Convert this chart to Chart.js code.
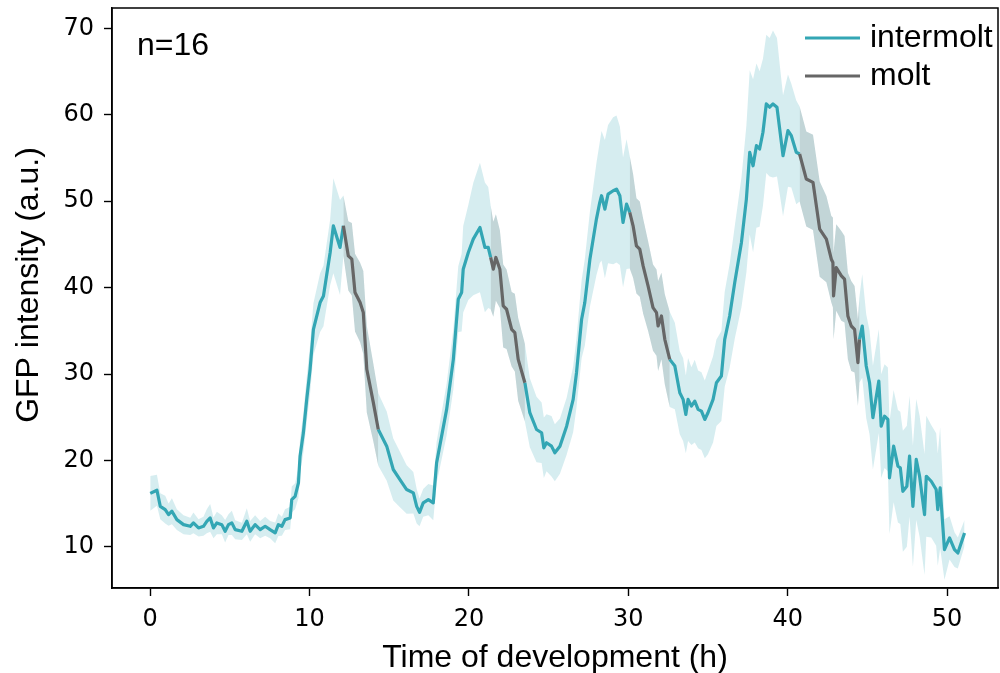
<!DOCTYPE html>
<html>
<head>
<meta charset="utf-8">
<script src="https://cdn.jsdelivr.net/npm/chart.js@4.4.1/dist/chart.umd.min.js"></script>
<style>
  html, body { margin: 0; padding: 0; background: #fff; }
  #wrap { width: 1000px; height: 673px; }
</style>
</head>
<body>
<div id="wrap"><canvas id="gfpChart" width="1000" height="673"></canvas></div>
<script>
// -----------------------------
// Data
// -----------------------------
const hours = [
  0, 0.42, 0.63, 0.94, 1.15, 1.36, 1.67, 2.09, 2.51, 2.71,
  3.03, 3.34, 3.55, 3.76, 3.97, 4.18, 4.49, 4.7, 4.91, 5.12,
  5.33, 5.75, 6.06, 6.27, 6.58, 6.9, 7.21, 7.52, 7.84, 8.04,
  8.26, 8.46, 8.78, 8.88, 9.09, 9.3, 9.4, 9.61, 9.82, 10.03,
  10.24, 10.66, 10.87, 11.29, 11.49, 11.91, 12.12, 12.43, 12.65, 12.85,
  13.17, 13.37, 13.59, 14.0, 14.31, 14.84, 15.25, 15.67, 16.09, 16.51,
  16.72, 16.9, 17.13, 17.45, 17.76, 17.97, 18.6, 19.02, 19.33, 19.54,
  19.64, 19.96, 20.27, 20.69, 21.0, 21.21, 21.36, 21.53, 21.69, 21.94,
  22.15, 22.36, 22.68, 22.88, 23.09, 23.51, 23.82, 24.24, 24.56, 24.7,
  24.87, 25.18, 25.39, 25.71, 26.13, 26.54, 26.75, 27.07, 27.27, 27.59,
  28.0, 28.21, 28.32, 28.53, 28.73, 29.05, 29.26, 29.47, 29.67, 29.89,
  30.09, 30.3, 30.51, 30.72, 30.93, 31.24, 31.55, 31.77, 31.87, 32.08,
  32.29, 32.6, 32.92, 33.23, 33.44, 33.61, 33.75, 33.96, 34.17, 34.38,
  34.59, 34.8, 35.0, 35.32, 35.53, 35.84, 36.05, 36.36, 36.68, 37.1,
  37.41, 37.62, 37.83, 38.04, 38.24, 38.45, 38.66, 38.87, 39.08, 39.33,
  39.5, 39.71, 40.02, 40.23, 40.54, 40.75, 41.17, 41.59, 42.01, 42.43,
  42.74, 42.84, 42.88, 43.05, 43.37, 43.57, 43.78, 43.99, 44.2, 44.41,
  44.51, 44.68, 44.93, 45.14, 45.35, 45.72, 45.87, 46.08, 46.29, 46.39,
  46.65, 46.92, 47.07, 47.23, 47.48, 47.65, 47.86, 48.07, 48.28, 48.59,
  48.7, 49.01, 49.32, 49.42, 49.57, 49.84, 50.16, 50.47, 50.68, 51.1
];

const meanGFP = [
  16.2, 16.56, 14.7, 14.32, 13.74, 14.13, 13.16, 12.58, 12.39, 12.78,
  12.2, 12.39, 12.97, 13.36, 12.2, 12.78, 12.58, 11.81, 12.58, 12.78,
  12.0, 11.81, 12.97, 11.81, 12.58, 12.0, 12.39, 12.0, 11.62, 12.58,
  12.39, 13.16, 13.36, 15.48, 15.86, 17.42, 20.5, 23.2, 27.07, 30.55,
  35.18, 38.27, 39.04, 44.07, 47.15, 44.65, 47.15, 43.67, 43.29, 39.43,
  38.27, 37.11, 30.55, 26.69, 23.59, 21.66, 18.96, 17.8, 16.64, 16.26,
  14.7, 14.0, 15.1, 15.48, 15.1, 19.73, 25.91, 31.7, 38.66, 39.43,
  42.13, 44.07, 45.61, 46.96, 44.65, 44.65, 43.49, 42.13, 43.49, 42.13,
  37.88, 37.5, 35.18, 34.8, 31.7, 29.0, 25.53, 23.59, 23.21, 21.47,
  22.05, 21.66, 20.89, 21.66, 23.97, 27.07, 30.16, 36.34, 38.27, 43.29,
  47.93, 49.86, 50.63, 49.08, 50.82, 51.21, 51.4, 50.63, 47.54, 49.66,
  48.7, 47.15, 44.83, 44.45, 42.51, 40.2, 37.69, 37.11, 35.56, 36.72,
  34.02, 31.7, 30.93, 27.84, 27.07, 25.33, 27.07, 26.29, 26.87, 25.91,
  25.71, 24.75, 25.53, 27.07, 29.0, 29.77, 34.02, 36.72, 40.59, 45.23,
  50.24, 55.66, 54.1, 56.42, 56.04, 57.97, 61.25, 60.87, 61.25, 60.87,
  58.35, 55.26, 58.16, 57.58, 55.66, 55.46, 52.56, 52.18, 46.77, 45.61,
  43.29, 42.91, 39.04, 42.33, 41.36, 40.98, 36.72, 35.56, 35.18, 31.32,
  34.02, 35.56, 30.93, 29.0, 24.95, 29.19, 23.97, 25.13, 24.75, 18.0,
  21.66, 19.34, 19.15, 16.44, 17.02, 20.5, 14.7, 20.12, 18.18, 13.74,
  18.18, 17.6, 16.64, 14.32, 16.84, 9.69, 11.04, 9.69, 9.3, 11.62
];

// half width of the shaded band
const spreadGFP = [
  2.0, 1.8, 1.5, 1.6, 1.3, 1.5, 1.2, 1.1, 1.0, 1.2,
  1.0, 1.1, 1.4, 1.6, 1.2, 1.3, 1.1, 1.3, 1.2, 1.4,
  1.1, 1.0, 1.5, 1.2, 1.1, 1.0, 1.1, 1.0, 1.2, 1.3,
  1.1, 1.2, 1.3, 1.5, 1.5, 1.8, 2.0, 2.3, 2.6, 2.8,
  3.0, 3.4, 3.5, 3.8, 5.5, 5.5, 3.5, 4.0, 4.2, 4.5,
  4.6, 4.8, 5.0, 4.5, 4.2, 4.0, 3.6, 3.2, 2.8, 2.4,
  2.0, 1.6, 1.6, 1.8, 2.0, 2.4, 3.0, 3.5, 3.8, 4.5,
  5.0, 5.5, 6.5, 7.5, 7.5, 7.0, 6.0, 5.5, 5.0, 4.5,
  4.8, 4.6, 4.3, 4.5, 4.8, 4.5, 4.0, 3.8, 3.5, 3.5,
  3.3, 3.5, 3.3, 3.2, 3.3, 3.8, 4.0, 4.5, 5.0, 5.5,
  6.5, 7.0, 7.5, 8.0, 8.0, 8.5, 8.5, 8.0, 7.5, 7.5,
  6.5, 6.0, 5.5, 5.5, 5.5, 5.2, 5.0, 5.0, 5.2, 5.0,
  5.2, 5.5, 5.0, 4.8, 4.8, 4.5, 4.8, 4.5, 4.8, 4.5,
  4.5, 4.5, 4.8, 5.0, 5.0, 5.2, 5.5, 6.0, 6.5, 7.5,
  8.5, 9.5, 10.0, 9.5, 9.0, 8.5, 8.0, 8.0, 8.5, 8.0,
  7.5, 7.0, 6.5, 6.0, 6.0, 5.5, 5.5, 5.5, 5.5, 5.0,
  5.0, 5.2, 5.0, 5.0, 5.2, 5.0, 5.0, 5.2, 5.0, 5.0,
  5.0, 6.0, 6.0, 6.0, 6.0, 6.0, 6.0, 6.0, 6.0, 6.5,
  6.5, 6.5, 6.5, 7.0, 7.0, 7.0, 7.0, 7.0, 7.0, 7.0,
  7.0, 6.5, 6.5, 6.5, 7.0, 3.5, 2.5, 2.0, 1.8, 1.5
];

// molt windows, [start, end] in hours
const moltWindows = [[12.12, 14.31], [21.36, 23.51], [30.09, 32.6], [40.75, 44.51]];

const xTicks = [0, 10, 20, 30, 40, 50];
const yTicks = [10, 20, 30, 40, 50, 60, 70];
const seriesNames = ["intermolt", "molt"];
const sampleLabel = "n=16";
const yTitle = "GFP intensity (a.u.)";


// -----------------------------
// Build datasets
// -----------------------------
const TEAL = "#33a6b4";
const GREY = "#666666";
const LABEL_FONT = "Liberation Sans, Arial, sans-serif";

function inMolt(t) {
  return moltWindows.some(w => t >= w[0] && t <= w[1]);
}

function insideMolt(t) {
  return moltWindows.some(w => t > w[0] && t < w[1]);
}

const lowPts = hours.map((t, i) => ({ x: t, y: meanGFP[i] - spreadGFP[i] }));
const highPts = hours.map((t, i) => ({ x: t, y: meanGFP[i] + spreadGFP[i] }));

const datasets = [
  { label: "band low", data: lowPts, borderWidth: 0, borderColor: "transparent", fill: false, order: 3 },
  { label: "band high", data: highPts, borderWidth: 0, borderColor: "transparent", fill: 0, backgroundColor: "rgba(51,166,180,0.2)", order: 3 }
];

moltWindows.forEach(w => {
  const idx = hours.map((t, i) => i).filter(i => hours[i] >= w[0] && hours[i] <= w[1]);
  const lowIndex = datasets.length;
  datasets.push({
    label: "molt low", data: idx.map(i => lowPts[i]),
    borderWidth: 0, borderColor: "transparent", fill: false, order: 2
  });
  datasets.push({
    label: "molt high", data: idx.map(i => highPts[i]),
    borderWidth: 0, borderColor: "transparent", fill: lowIndex,
    backgroundColor: "rgba(100,100,100,0.18)", order: 2
  });
});

datasets.push({
  label: seriesNames[0],
  data: hours.map((t, i) => ({ x: t, y: insideMolt(t) ? null : meanGFP[i] })),
  borderColor: TEAL, borderWidth: 3.2, fill: false, order: 1,
  borderJoinStyle: "round", spanGaps: false
});

datasets.push({
  label: seriesNames[1],
  data: hours.map((t, i) => ({ x: t, y: inMolt(t) ? meanGFP[i] : null })),
  borderColor: GREY, borderWidth: 3.2, fill: false, order: 0,
  borderJoinStyle: "round", spanGaps: false
});


// -----------------------------
// Frame, y title, n label and legend
// -----------------------------
const framePlugin = {
  id: "frame",
  afterDraw(chart) {
    const { ctx, chartArea: a } = chart;
    ctx.save();

    ctx.strokeStyle = "#000";
    ctx.lineWidth = 1.5;
    ctx.strokeRect(a.left, a.top, a.right - a.left, a.bottom - a.top);

    ctx.fillStyle = "#000";
    ctx.font = "32px " + LABEL_FONT;
    ctx.textBaseline = "middle";

    // y axis title
    ctx.save();
    ctx.translate(29, 285);
    ctx.rotate(-Math.PI / 2);
    ctx.textAlign = "center";
    ctx.fillText(yTitle, 0, 0);
    ctx.restore();

    ctx.textAlign = "left";
    ctx.fillText(sampleLabel, a.left + 25, a.top + 38);

    const legendSets = chart.data.datasets.filter(d => seriesNames.includes(d.label));
    legendSets.forEach((d, i) => {
      const y = a.top + 30 + i * 38;
      ctx.strokeStyle = d.borderColor;
      ctx.lineWidth = 3.2;
      ctx.beginPath();
      ctx.moveTo(a.right - 193, y);
      ctx.lineTo(a.right - 138, y);
      ctx.stroke();
      ctx.fillStyle = "#000";
      ctx.fillText(d.label, a.right - 128, y);
    });

    ctx.restore();
  }
};


// -----------------------------
// Chart
// -----------------------------
new Chart(document.getElementById("gfpChart").getContext("2d"), {
  type: "line",
  data: { datasets: datasets },
  options: {
    responsive: false,
    animation: false,
    devicePixelRatio: 1,
    layout: { padding: { top: 8, right: 2, left: 0, bottom: 0 } },
    elements: { point: { radius: 0, hoverRadius: 0 }, line: { tension: 0 } },
    plugins: {
      legend: { display: false },
      tooltip: { enabled: false }
    },
    scales: {
      x: {
        type: "linear",
        min: -2.4,
        max: 53.2,
        afterBuildTicks: s => { s.ticks = xTicks.map(v => ({ value: v })); },
        afterFit: s => { s.height = 85; s.paddingLeft = 0; s.paddingRight = 0; },
        grid: { drawOnChartArea: false, drawTicks: true, tickLength: 8, tickWidth: 1.4, tickColor: "#000" },
        border: { display: true, color: "#000", width: 1.5 },
        ticks: { color: "#000", font: { family: "DejaVu Sans", size: 24 }, padding: 9, maxRotation: 0 },
        title: {
          display: true, text: "Time of development (h)", color: "#000",
          font: { family: LABEL_FONT, size: 32 }, padding: { top: 0, bottom: -4 }
        }
      },
      y: {
        type: "linear",
        min: 5.25,
        max: 72.35,
        afterBuildTicks: s => { s.ticks = yTicks.map(v => ({ value: v })); },
        afterFit: s => { s.width = 112; s.paddingTop = 0; s.paddingBottom = 0; },
        grid: { drawOnChartArea: false, drawTicks: true, tickLength: 8, tickWidth: 1.4, tickColor: "#000" },
        border: { display: true, color: "#000", width: 1.5 },
        ticks: { color: "#000", font: { family: "DejaVu Sans", size: 24 }, padding: 10 }
      }
    }
  },
  plugins: [framePlugin]
});
</script>
</body>
</html>
